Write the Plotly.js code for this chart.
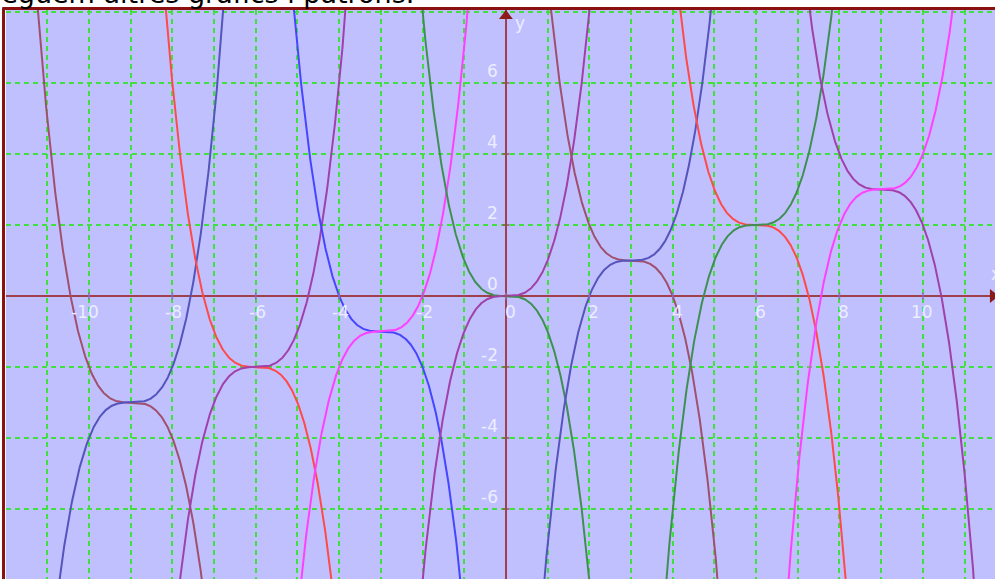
<!DOCTYPE html>
<html><head><meta charset="utf-8">
<script src="https://cdn.plot.ly/plotly-3.0.1.min.js"></script>
<style>html,body{margin:0;padding:0;background:#fff;overflow:hidden}#chart{width:995px;height:579px}</style>
</head><body><div id="chart"></div>
<script>
// Function family: y = -(x-h)^3 + k  (falling) and y = (x-h)^3 + k (rising)
const centers = [-9, -6, -3, 0, 3, 6, 9];
const vertexY = [-3, -2, -1, 0, 1, 2, 3];
const fallColors = ['#a0506e', '#ff4a4a', '#4646ff', '#3f8f52', '#a0506e', '#ff4a4a', '#a040a8'];
const riseColors = ['#5454bc', '#a040ac', '#ff40ff', '#a040a8', '#5454bc', '#3f8f52', '#ff40ff'];
const xTicks = [-10, -8, -6, -4, -2, 0, 2, 4, 6, 8, 10];
const xTickText = ['-10', '-8', '-6', '-4', '-2', '0', '2', '4', '6', '8', '10'];
const yTicks = [-6, -4, -2, 0, 2, 4, 6];
const yTickText = ['-6', '-4', '-2', '0', '2', '4', '6'];
const titleText = 'Seguem altres gràfics i patrons.';

const xRange = [-11.99, 11.73];
const yRange = [-7.972, 8.056];

const traces = [];
function curve(h, k, sign) {
  const xs = [], ys = [];
  for (let i = 0; i <= 2400; i++) {
    const x = xRange[0] + (xRange[1] - xRange[0]) * i / 2400;
    xs.push(x);
    ys.push(sign * Math.pow(x - h, 3) + k);
  }
  return {xs, ys};
}
centers.forEach((h, i) => {
  const f = curve(h, vertexY[i], -1);
  traces.push({x: f.xs, y: f.ys, mode: 'lines', line: {color: fallColors[i], width: 2}, hoverinfo: 'skip', showlegend: false});
  const r = curve(h, vertexY[i], 1);
  traces.push({x: r.xs, y: r.ys, mode: 'lines', line: {color: riseColors[i], width: 2}, hoverinfo: 'skip', showlegend: false});
});
// small tick marks on the axes
traces.push({x: xTicks, y: xTicks.map(() => 0), mode: 'markers', marker: {symbol: 'line-ns-open', size: 5, line: {color: '#ffffff', width: 1.5}}, hoverinfo: 'skip', showlegend: false});
traces.push({x: yTicks.map(() => 0), y: yTicks, mode: 'markers', marker: {symbol: 'line-ew-open', size: 5, line: {color: '#ffffff', width: 1.5}}, hoverinfo: 'skip', showlegend: false});
// arrow heads
traces.push({x: [0], y: [yRange[1] - 0.17], mode: 'markers', cliponaxis: false, marker: {symbol: 'triangle-up', size: 12, color: '#8b1a1a'}, hoverinfo: 'skip', showlegend: false});
traces.push({x: [xRange[1] - 0.05], y: [0], mode: 'markers', cliponaxis: false, marker: {symbol: 'triangle-right', size: 12, color: '#8b1a1a'}, hoverinfo: 'skip', showlegend: false});

const labelFont = {family: 'DejaVu Sans, Verdana, sans-serif', size: 17, color: '#eceeff'};
const annotations = [];
xTicks.forEach((v, i) => annotations.push({x: v, y: 0, xref: 'x', yref: 'y', text: xTickText[i], showarrow: false, xanchor: 'right', yanchor: 'middle', xshift: 12, yshift: -16, font: labelFont}));
yTicks.forEach((v, i) => annotations.push({x: 0, y: v, xref: 'x', yref: 'y', text: yTickText[i], showarrow: false, xanchor: 'right', yanchor: 'middle', xshift: -6, yshift: 12, font: labelFont}));
annotations.push({x: 0, y: yRange[1], xref: 'x', yref: 'y', text: 'y', showarrow: false, xanchor: 'left', yanchor: 'middle', xshift: 7, yshift: -13, font: labelFont});
annotations.push({x: xRange[1], y: 0, xref: 'x', yref: 'y', text: 'x', showarrow: false, xanchor: 'right', yanchor: 'middle', xshift: 8, yshift: 22, font: labelFont});
annotations.push({x: 0, y: 1, xref: 'paper', yref: 'paper', text: titleText, showarrow: false, xanchor: 'left', yanchor: 'bottom', xshift: -24, yshift: -1, font: {family: 'DejaVu Sans, Verdana, sans-serif', size: 27, color: '#000000'}});

const layout = {
  width: 995, height: 579,
  margin: {l: 6, r: 0, t: 10, b: 0, pad: 0},
  paper_bgcolor: '#ffffff', plot_bgcolor: '#c0c0ff',
  xaxis: {range: xRange, dtick: 1, tick0: 0, showgrid: true, gridcolor: '#40e040', gridwidth: 2, griddash: '5px,4px',
          zeroline: true, zerolinecolor: '#a0404c', zerolinewidth: 2, showticklabels: false, ticks: '', showline: false, fixedrange: true},
  yaxis: {range: yRange, dtick: 2, tick0: 0, showgrid: true, gridcolor: '#40e040', gridwidth: 2, griddash: '5px,4px',
          zeroline: true, zerolinecolor: '#a0404c', zerolinewidth: 2, showticklabels: false, ticks: '', showline: false, fixedrange: true},
  shapes: [
    {type: 'line', xref: 'paper', yref: 'paper', x0: -0.003, x1: 1.01, y0: 1.0025, y1: 1.0025, line: {color: '#8b1010', width: 3}},
    {type: 'line', xref: 'paper', yref: 'paper', x0: -0.0025, x1: -0.0025, y0: -0.01, y1: 1.005, line: {color: '#8b1010', width: 3}}
  ],
  annotations: annotations,
  showlegend: false, hovermode: false
};
Plotly.newPlot('chart', traces, layout, {displayModeBar: false, staticPlot: true});
</script>
</body></html>
